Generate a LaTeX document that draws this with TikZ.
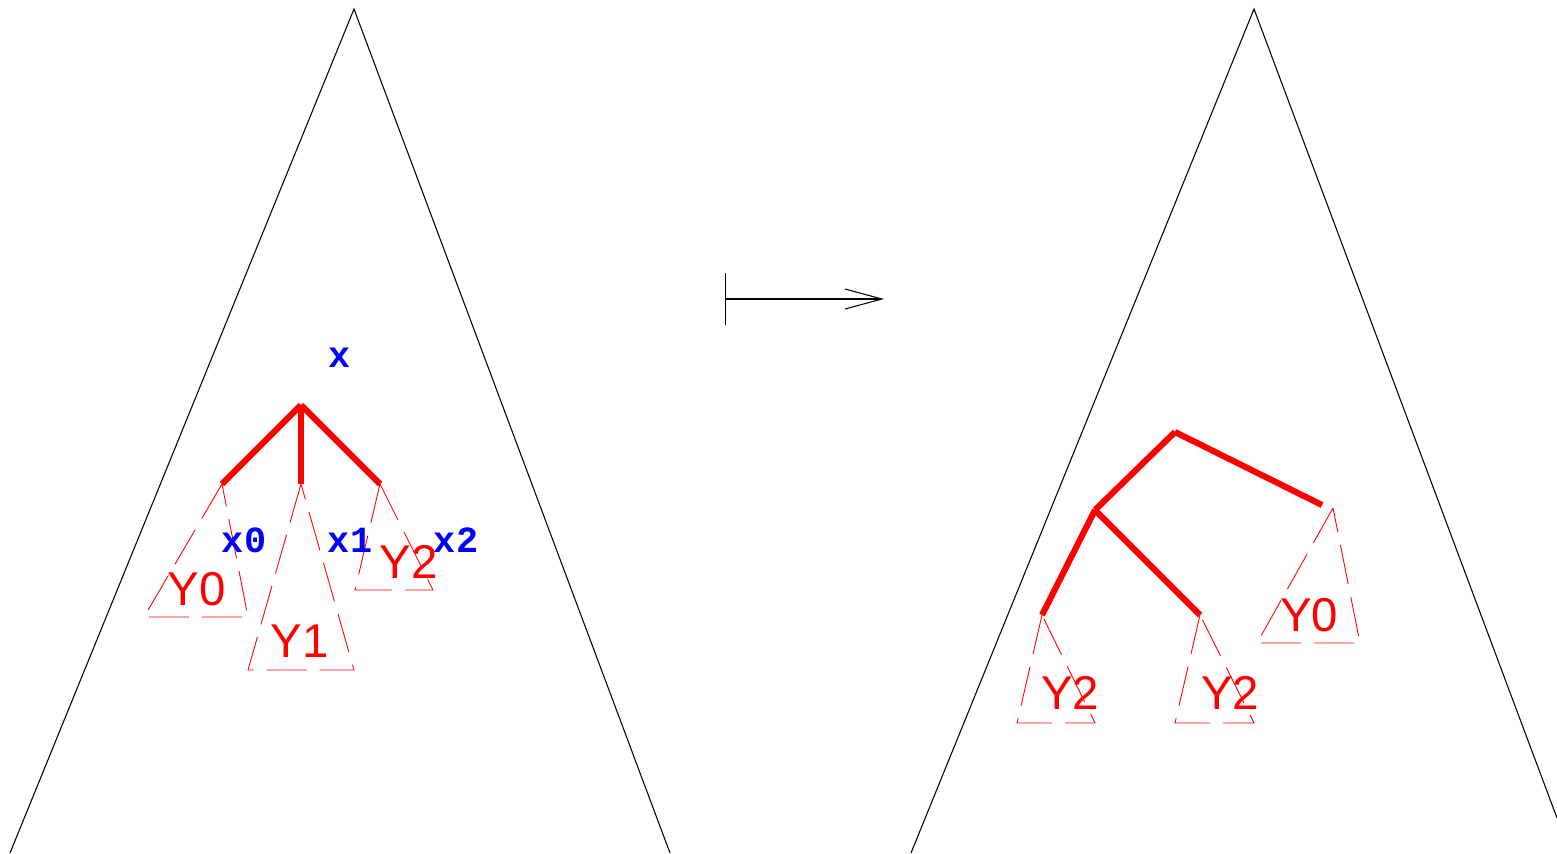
\documentclass[tikz,border=0pt]{standalone}
\usepackage{fontspec}
\setsansfont{Liberation Sans}
\setmonofont{Liberation Mono}
\usetikzlibrary{arrows.meta}

\begin{document}
\begin{tikzpicture}[
            x=0.02cm, y=-0.02cm,
            outline/.style={draw=black, line width=0.6pt},
            branch/.style={draw=red, line width=3.5pt},
            subtree/.style={draw=red, line width=0.5pt, dash pattern=on 0.8cm off 0.26cm},
            varlabel/.style={text=blue, font=\ttfamily\bfseries\fontsize{21}{21}\selectfont, inner sep=0pt, anchor=base},
            treelabel/.style={text=red, font=\sffamily\fontsize{27}{27}\selectfont, inner sep=0pt, anchor=base},
            mapsto/.style={{Bar[width=1.04cm]}-{Straight Barb[length=0.74cm, width=0.4cm]}, line width=0.6pt}
        ]
            \useasboundingbox (0,0) rectangle (1557,853);

            % --- ARVORE DA ESQUERDA ---
            \coordinate (topL) at (354,9);
            \coordinate (botLl) at (10,853);
            \coordinate (botLr) at (670,853);
            \draw[outline] (botLl) -- (topL) -- (botLr);

            \coordinate (rootL) at (301,405);
            \coordinate (kidL0) at (222,484);
            \coordinate (kidL1) at (301,484);
            \coordinate (kidL2) at (380,484);
            \draw[branch] (rootL) -- (kidL0);
            \draw[branch] (rootL) -- (kidL1);
            \draw[branch] (rootL) -- (kidL2);

            % subarvores tracejadas
            \draw[subtree] (kidL0) -- (144,617) -- (248,617) -- cycle;
            \draw[subtree] (kidL1) -- (248,670) -- (354,670) -- cycle;
            \draw[subtree] (kidL2) -- (355,590) -- (433,590) -- cycle;

            \node[varlabel] (varX) at (340,367) {x};
            \node[varlabel] (varX0) at (244,552) {x0};
            \node[varlabel] (varX1) at (350,552) {x1};
            \node[varlabel] (varX2) at (456,552) {x2};

            \node[treelabel] (subL0) at (197,605) {Y0};
            \node[treelabel] (subL1) at (300,657) {Y1};
            \node[treelabel] (subL2) at (409,578) {Y2};

            % --- SETA ---
            \coordinate (mapFrom) at (725,299);
            \coordinate (mapTo) at (884,299);
            \draw[mapsto] (mapFrom) -- (mapTo);

            % --- ARVORE DA DIREITA ---
            \coordinate (topR) at (1254,9);
            \coordinate (botRl) at (911,853);
            \coordinate (botRr) at (1557,818);
            \draw[outline] (botRl) -- (topR) -- (botRr);

            \coordinate (rootR) at (1175,432);
            \coordinate (kidRa) at (1095,510);
            \coordinate (kidRb) at (1322,505);
            \coordinate (kidRaa) at (1042,615);
            \coordinate (kidRab) at (1200,615);
            \draw[branch] (rootR) -- (kidRa);
            \draw[branch] (rootR) -- (kidRb);
            \draw[branch] (kidRa) -- (kidRaa);
            \draw[branch] (kidRa) -- (kidRab);

            % subarvores tracejadas
            \draw[subtree] (kidRaa) -- (1017,723) -- (1095,723) -- cycle;
            \draw[subtree] (kidRab) -- (1175,723) -- (1254,723) -- cycle;
            \draw[subtree] (1333,508) -- (1257,643) -- (1360,643) -- cycle;

            \node[treelabel] (subRaa) at (1070,709) {Y2};
            \node[treelabel] (subRab) at (1230,709) {Y2};
            \node[treelabel] (subRb) at (1309,631) {Y0};

        \end{tikzpicture}
\end{document}
